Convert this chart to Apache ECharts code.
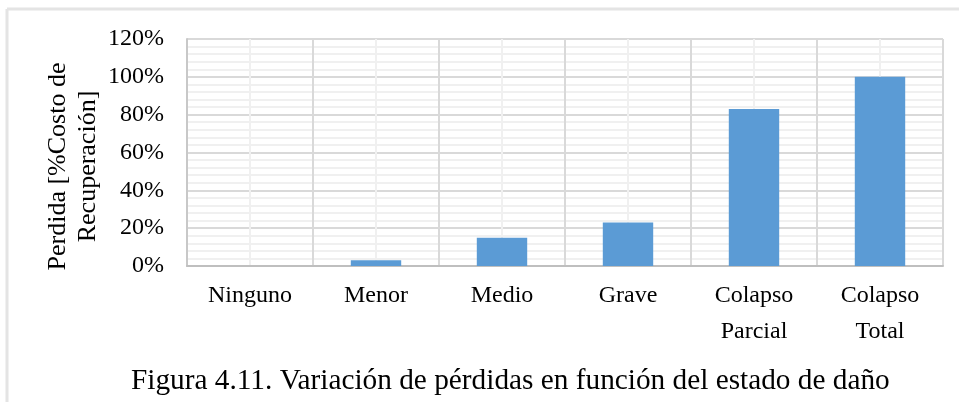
<!DOCTYPE html>
<html>
<head>
<meta charset="utf-8">
<script src="https://cdn.jsdelivr.net/npm/echarts@6/dist/echarts.min.js"></script>
<style>
  html, body { margin: 0; padding: 0; background: #fff; }
  #chart { width: 959px; height: 402px; }
</style>
</head>
<body>
<div id="chart"></div>
<script>
// Loss ratio per damage state
const categories = ['Ninguno', 'Menor', 'Medio', 'Grave', 'Colapso\nParcial', 'Colapso\nTotal'];
const lossValues = [0, 0.03, 0.15, 0.23, 0.83, 1.00];
const yTicks = [0, 0.2, 0.4, 0.6, 0.8, 1.0, 1.2];
const yAxisTitle = 'Perdida [%Costo de\nRecuperación]';
const caption = 'Figura 4.11. Variación de pérdidas en función del estado de daño';

const serif = '"Liberation Serif", "Times New Roman", serif';
const chart = echarts.init(document.getElementById('chart'), null, { renderer: 'canvas' });

chart.setOption({
  animation: false,
  textStyle: { fontFamily: serif, color: '#000' },
  title: {
    text: caption,
    left: 126,
    top: 362,
    textStyle: { fontFamily: serif, fontSize: 29.3, fontWeight: 'normal', color: '#000' }
  },
  graphic: [
    // light frame around the figure (top and left edges)
    { type: 'line', shape: { x1: 7, y1: 9, x2: 959, y2: 9 }, style: { stroke: '#e4e4e4', lineWidth: 3 }, silent: true },
    { type: 'line', shape: { x1: 7, y1: 9, x2: 7, y2: 402 }, style: { stroke: '#e4e4e4', lineWidth: 3 }, silent: true }
  ],
  grid: { left: 187, top: 39, right: 16, bottom: 136, containLabel: false },
  xAxis: [
    {
      type: 'category',
      data: categories,
      axisLine: { show: true, lineStyle: { color: '#bfbfbf', width: 2 } },
      axisTick: { show: false },
      splitLine: { show: false },
      axisLabel: { fontFamily: serif, fontSize: 24, color: '#000', margin: 12, lineHeight: 36 }
    },
    {
      // value overlay that carries the vertical grid (boundaries + category centres)
      type: 'value',
      position: 'bottom',
      min: 0,
      max: 6,
      interval: 1,
      axisLine: { show: false },
      axisTick: { show: false },
      axisLabel: { show: false },
      splitLine: { show: true, lineStyle: { color: '#d9d9d9', width: 2 } },
      minorTick: { show: false, splitNumber: 2 },
      minorSplitLine: { show: true, lineStyle: { color: '#f0f0f0', width: 2 } }
    }
  ],
  yAxis: {
    type: 'value',
    min: 0,
    max: 1.2,
    interval: 0.2,
    name: yAxisTitle,
    nameLocation: 'middle',
    nameRotate: 90,
    nameGap: 84,
    nameMoveOverlap: false,
    nameTextStyle: { fontFamily: serif, fontSize: 26, color: '#000', lineHeight: 30, padding: [0, 28, 0, 0] },
    axisLine: { show: true, lineStyle: { color: '#c8c8c8', width: 2 } },
    axisTick: { show: false },
    axisLabel: {
      fontFamily: serif, fontSize: 24, color: '#000', margin: 23,
      formatter: v => {
        const t = yTicks.find(x => Math.abs(x - v) < 1e-9);
        return Math.round((t !== undefined ? t : v) * 100) + '%';
      }
    },
    splitLine: { show: true, lineStyle: { color: '#d9d9d9', width: 2 } },
    minorTick: { show: false, splitNumber: 5 },
    minorSplitLine: { show: true, lineStyle: { color: '#f0f0f0', width: 2 } }
  },
  series: [{
    type: 'bar',
    xAxisIndex: 0,
    data: lossValues,
    barWidth: '40%',
    itemStyle: { color: '#5b9bd5' }
  }]
});
</script>
</body>
</html>
